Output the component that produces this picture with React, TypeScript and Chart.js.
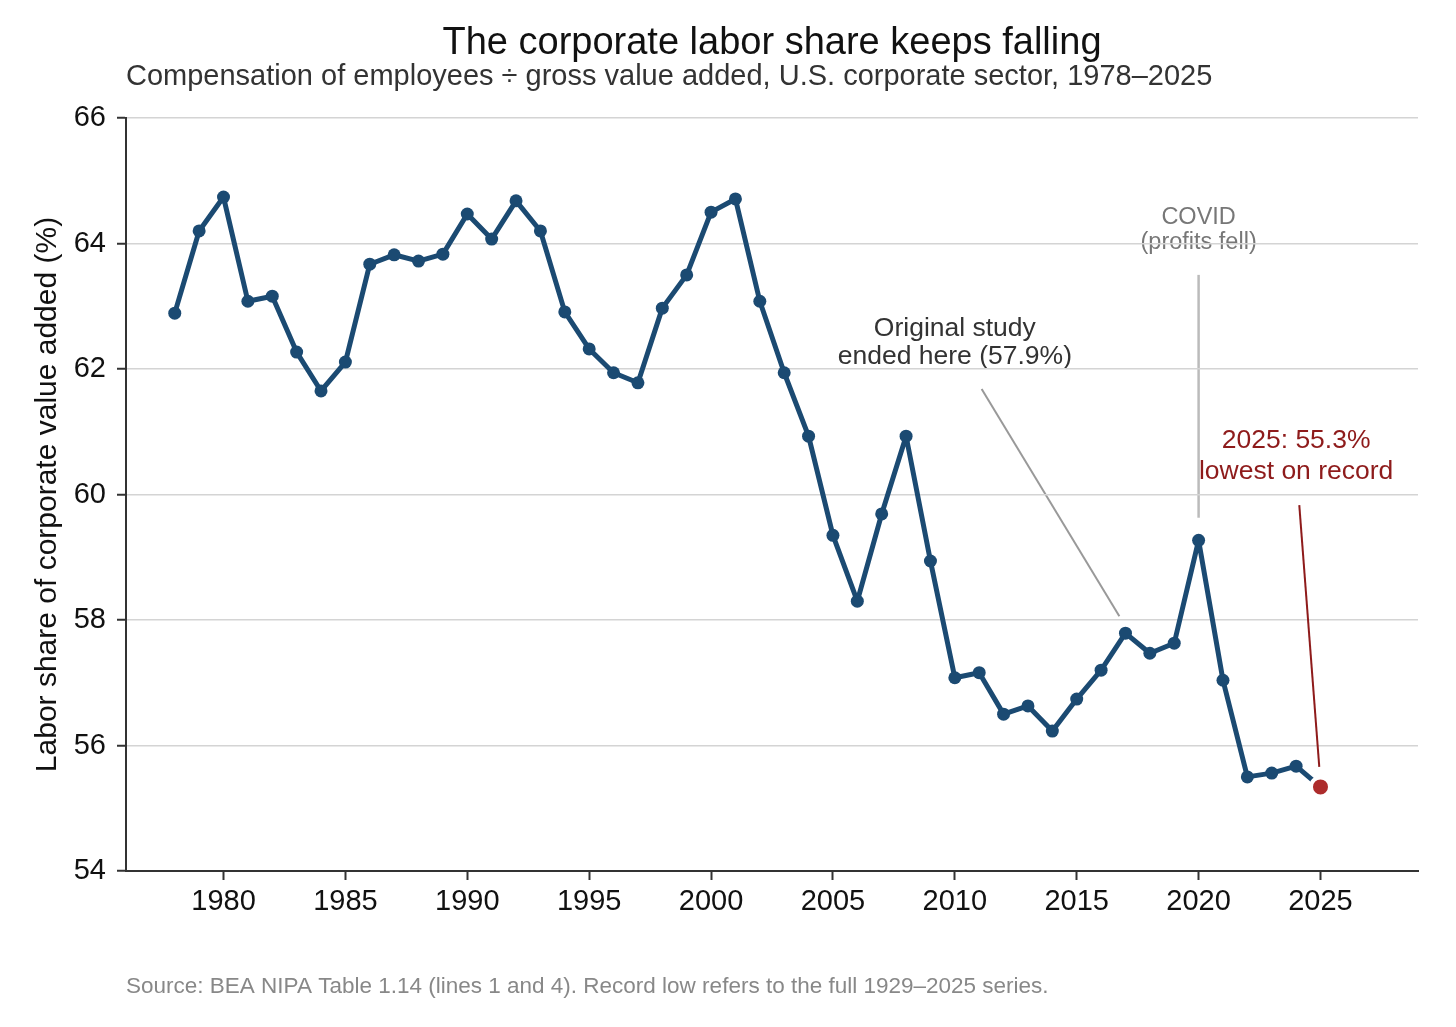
import { useEffect, useRef } from "react";
import { Chart } from "chart.js/auto";

// Data
const years = [
  1978, 1979, 1980, 1981, 1982, 1983, 1984, 1985, 1986, 1987, 1988, 1989,
  1990, 1991, 1992, 1993, 1994, 1995, 1996, 1997, 1998, 1999, 2000, 2001,
  2002, 2003, 2004, 2005, 2006, 2007, 2008, 2009, 2010, 2011, 2012, 2013,
  2014, 2015, 2016, 2017, 2018, 2019, 2020, 2021, 2022, 2023, 2024, 2025,
];
const laborShare = [
  62.89, 64.2, 64.74, 63.08, 63.16, 62.27, 61.65, 62.11, 63.67, 63.82, 63.72,
  63.83, 64.47, 64.07, 64.68, 64.2, 62.91, 62.32, 61.94, 61.78, 62.97, 63.5,
  64.5, 64.71, 63.08, 61.94, 60.93, 59.35, 58.3, 59.69, 60.93, 58.94, 57.08,
  57.16, 56.5, 56.63, 56.23, 56.74, 57.2, 57.79, 57.47, 57.63, 59.27, 57.04,
  55.5, 55.56, 55.67, 55.34,
];
const xTicks = [1980, 1985, 1990, 1995, 2000, 2005, 2010, 2015, 2020, 2025];
const yTicks = [54, 56, 58, 60, 62, 64, 66];

const FONT = "'Liberation Sans', Arial, sans-serif";
const BLUE = "#1b4a72";
const RED = "#ad2c2c";
const DARK_RED = "#8e1b1b";

const App = () => {
  const chartRef = useRef<Chart | null>(null);
  const canvasRef = useRef<HTMLCanvasElement | null>(null);

  useEffect(() => {
    if (!canvasRef.current) return;
    document.body.style.margin = "0";

    if (chartRef.current) {
      chartRef.current.destroy();
    }

    const last = years.length - 1;

    // text + lines drawn by hand (titles, notes, source)
    const notes = {
      id: "notes",
      beforeDraw(chart: Chart) {
        const { ctx, chartArea, scales } = chart;
        const x = scales.x;
        const y = scales.y;
        ctx.save();
        ctx.fillStyle = "#fff";
        ctx.fillRect(0, 0, chart.width, chart.height);

        ctx.fillStyle = "#111";
        ctx.font = `38px ${FONT}`;
        ctx.textAlign = "center";
        ctx.textBaseline = "alphabetic";
        ctx.fillText(
          "The corporate labor share keeps falling",
          (chartArea.left + chartArea.right) / 2,
          54
        );
        ctx.fillStyle = "#333";
        ctx.font = `29px ${FONT}`;
        ctx.textAlign = "left";
        ctx.fillText(
          "Compensation of employees \u00f7 gross value added, U.S. corporate sector, 1978\u20132025",
          chartArea.left,
          85
        );
        ctx.fillStyle = "#888";
        ctx.font = `22.5px ${FONT}`;
        ctx.fillText(
          "Source: BEA NIPA Table 1.14 (lines 1 and 4). Record low refers to the full 1929\u20132025 series.",
          chartArea.left,
          993
        );

        // original study note
        ctx.textAlign = "center";
        ctx.textBaseline = "middle";
        ctx.fillStyle = "#333";
        ctx.font = `26.5px ${FONT}`;
        ctx.fillText("Original study", x.getPixelForValue(2010), y.getPixelForValue(62.64));
        ctx.fillText("ended here (57.9%)", x.getPixelForValue(2010), y.getPixelForValue(62.19));
        ctx.strokeStyle = "#999";
        ctx.lineWidth = 2;
        ctx.beginPath();
        ctx.moveTo(x.getPixelForValue(2011.1), y.getPixelForValue(61.68));
        ctx.lineTo(x.getPixelForValue(2016.75), y.getPixelForValue(58.06));
        ctx.stroke();

        // covid note
        ctx.fillStyle = "#777";
        ctx.font = `23.5px ${FONT}`;
        ctx.fillText("COVID", x.getPixelForValue(2020), y.getPixelForValue(64.42));
        ctx.fillText("(profits fell)", x.getPixelForValue(2020), y.getPixelForValue(64.01));
        ctx.strokeStyle = "#bbb";
        ctx.lineWidth = 2.5;
        ctx.beginPath();
        ctx.moveTo(x.getPixelForValue(2020), y.getPixelForValue(63.5));
        ctx.lineTo(x.getPixelForValue(2020), y.getPixelForValue(59.63));
        ctx.stroke();
        ctx.restore();
      },
      afterDatasetsDraw(chart: Chart) {
        const { ctx, scales } = chart;
        const x = scales.x;
        const y = scales.y;
        ctx.save();
        ctx.textAlign = "center";
        ctx.textBaseline = "middle";
        ctx.fillStyle = DARK_RED;
        ctx.font = `26.5px ${FONT}`;
        ctx.fillText("2025: 55.3%", x.getPixelForValue(2024), y.getPixelForValue(60.85));
        ctx.fillText("lowest on record", x.getPixelForValue(2024), y.getPixelForValue(60.37));
        ctx.strokeStyle = DARK_RED;
        ctx.lineWidth = 2;
        ctx.beginPath();
        ctx.moveTo(x.getPixelForValue(2024.13), y.getPixelForValue(59.83));
        ctx.lineTo(x.getPixelForValue(2024.95), y.getPixelForValue(55.66));
        ctx.stroke();
        ctx.restore();
      },
    };

    chartRef.current = new Chart(canvasRef.current, {
      type: "line",
      data: {
        datasets: [
          {
            data: years.map((yr, i) => ({ x: yr, y: laborShare[i] })),
            borderColor: BLUE,
            borderWidth: 5,
            borderJoinStyle: "round",
            borderCapStyle: "round",
            tension: 0,
            pointRadius: (c: any) => (c.dataIndex === last ? 9.5 : 6.5),
            pointBackgroundColor: (c: any) => (c.dataIndex === last ? RED : BLUE),
            pointBorderColor: (c: any) => (c.dataIndex === last ? "#fff" : BLUE),
            pointBorderWidth: (c: any) => (c.dataIndex === last ? 4 : 0),
          },
        ],
      },
      plugins: [notes],
      options: {
        responsive: false,
        animation: false,
        layout: { padding: { top: 118, right: 38, bottom: 96, left: 0 } },
        plugins: {
          legend: { display: false },
          tooltip: { enabled: false },
        },
        scales: {
          x: {
            type: "linear",
            min: 1976,
            max: 2029,
            afterFit: (s: any) => {
              s.height = 60;
            },
            afterBuildTicks: (s: any) => {
              s.ticks = xTicks.map((v) => ({ value: v }));
            },
            grid: {
              drawOnChartArea: false,
              tickLength: 9,
              tickColor: "#333",
              tickWidth: 2,
            },
            border: { color: "#333", width: 2 },
            ticks: {
              color: "#111",
              font: { family: FONT, size: 29 },
              padding: 5,
              callback: (v: any) => String(v),
            },
          },
          y: {
            min: 54,
            max: 66,
            afterFit: (s: any) => {
              s.width = 126;
            },
            afterBuildTicks: (s: any) => {
              s.ticks = yTicks.map((v) => ({ value: v }));
            },
            grid: {
              color: "#d4d4d4",
              lineWidth: 1.5,
              tickLength: 9,
              tickColor: "#333",
              tickWidth: 2,
            },
            border: { color: "#333", width: 2 },
            ticks: {
              color: "#111",
              font: { family: FONT, size: 29 },
              padding: 11,
            },
            title: {
              display: true,
              text: "Labor share of corporate value added (%)",
              color: "#111",
              font: { family: FONT, size: 30 },
              padding: { top: 30, bottom: 0 },
            },
          },
        },
      },
    });

    return () => {
      chartRef.current?.destroy();
      chartRef.current = null;
    };
  }, []);

  return <canvas ref={canvasRef} width="1456" height="1027"></canvas>;
};

export default App;
